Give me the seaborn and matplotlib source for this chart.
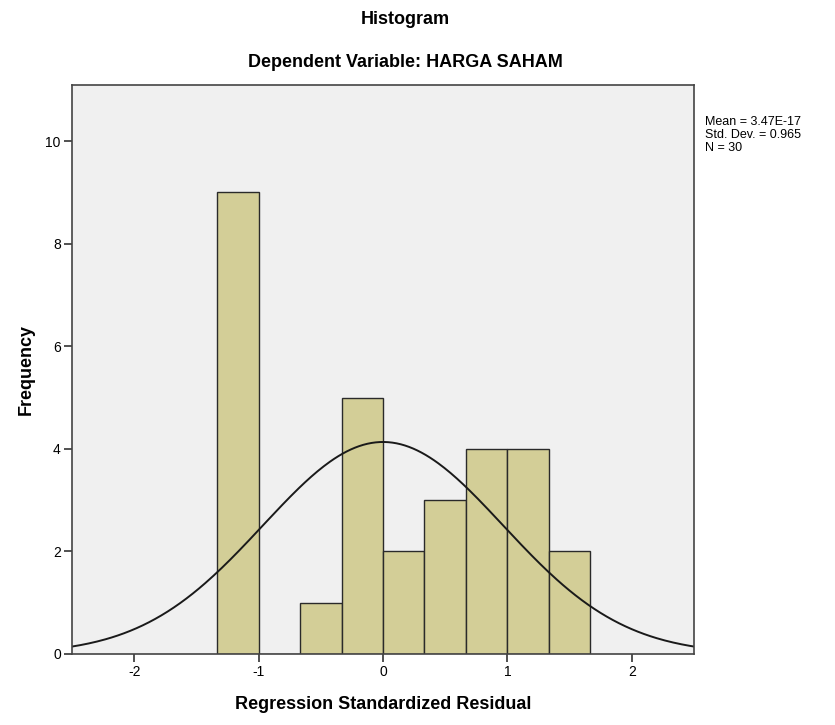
import numpy as np
import pandas as pd
import matplotlib
matplotlib.use('Agg')
import matplotlib.pyplot as plt
import seaborn as sns

# bin counts (bin width 1/3)
bin_edges = [-4/3, -1, -2/3, -1/3, 0, 1/3, 2/3, 1, 4/3, 5/3]
counts = [9, 0, 1, 5, 2, 3, 4, 4, 2]
mean_val = 3.47e-17
std_val = 0.965
n_obs = 30

x_ticks = [-2, -1, 0, 1, 2]
y_ticks = [0, 2, 4, 6, 8, 10]

sns.set_style('white')
plt.rcParams['font.family'] = ['Liberation Sans', 'DejaVu Sans']
plt.rcParams['axes.unicode_minus'] = False
plt.rcParams['text.color'] = 'black'
plt.rcParams['axes.labelcolor'] = 'black'
plt.rcParams['xtick.color'] = 'black'
plt.rcParams['ytick.color'] = 'black'

centers = [(a + b) / 2 for a, b in zip(bin_edges[:-1], bin_edges[1:])]
df = pd.DataFrame({'resid': centers, 'count': counts})

fig = plt.figure(figsize=(8.35, 7.25), dpi=100)
ax = fig.add_axes([0.0862, 0.098, 0.745, 0.785])
ax.set_facecolor('#f0f0f0')

sns.histplot(data=df, x='resid', weights='count', bins=bin_edges, ax=ax,
             color='#d3ce97', alpha=1, edgecolor='#2a2a2a', linewidth=1.0)

# normal curve from the reported mean / sd
xs = np.linspace(-2.5, 2.5, 300)
bw = bin_edges[1] - bin_edges[0]
ys = n_obs * bw * np.exp(-0.5 * ((xs - mean_val) / std_val) ** 2) / (std_val * np.sqrt(2 * np.pi))
sns.lineplot(x=xs, y=ys, ax=ax, color='#1a1a1a', linewidth=1.4)

ax.set_xlim(-2.5, 2.5)
ax.set_ylim(0, 11.1)
ax.set_xticks(x_ticks)
ax.set_yticks(y_ticks)
ax.tick_params(axis='both', direction='out', length=6, width=1.2, color='#333333',
               labelsize=10, labelcolor='black', pad=2, bottom=True, left=True)
for s in ax.spines.values():
    s.set_color('#444444')
    s.set_linewidth(1.2)

ax.set_xlabel('Regression Standardized Residual', fontsize=13, fontweight='bold',
              labelpad=12, color='black')
ax.set_ylabel('Frequency', fontsize=13, fontweight='bold', labelpad=8, color='black')

fig.text(0.485, 0.973, 'Histogram', ha='center', va='center', fontsize=13,
         fontweight='bold', color='black')
fig.text(0.485, 0.914, 'Dependent Variable: HARGA SAHAM', ha='center', va='center',
         fontsize=13, fontweight='bold', color='black')
fig.text(0.844, 0.840, 'Mean = 3.47E-17\nStd. Dev. = 0.965\nN = 30', ha='left', va='top',
         fontsize=9, linespacing=1.12, color='black')

fig.savefig('out.png', dpi=100)
